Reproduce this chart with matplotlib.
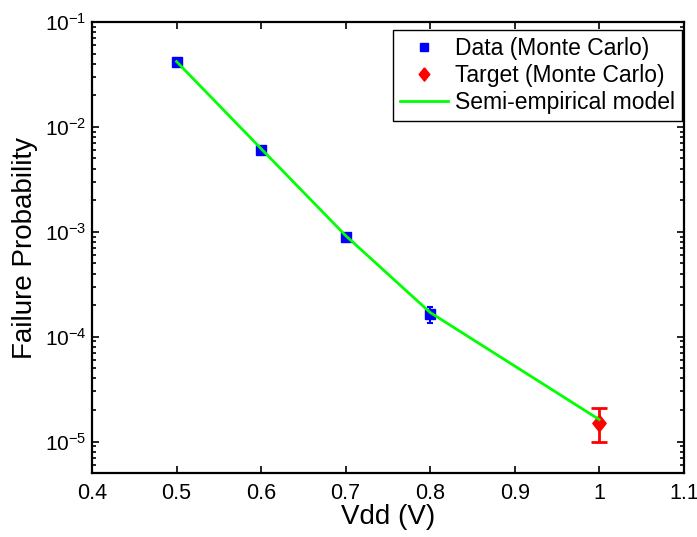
import matplotlib
matplotlib.use("Agg")
import matplotlib.pyplot as plt
import numpy as np
from matplotlib.ticker import LogLocator, NullFormatter

plt.rcParams['font.family'] = ['Liberation Sans', 'DejaVu Sans']
plt.rcParams['mathtext.fontset'] = 'custom'
plt.rcParams['mathtext.rm'] = 'Liberation Sans'
plt.rcParams['mathtext.it'] = 'Liberation Sans'
plt.rcParams['mathtext.default'] = 'regular'

# Data
vdd_data = [0.5, 0.6, 0.7, 0.8]
p_data = [0.042, 0.0060, 8.9e-4, 1.65e-4]
p_data_lo = [0.040, 0.0057, 8.5e-4, 1.35e-4]
p_data_hi = [0.044, 0.0063, 9.3e-4, 1.90e-4]

vdd_target = [1.0]
p_target = [1.5e-5]
p_target_lo = [1.0e-5]
p_target_hi = [2.1e-5]

vdd_model = [0.5, 0.6, 0.7, 0.8, 1.0]
p_model = [0.042, 0.0062, 9.2e-4, 1.7e-4, 1.62e-5]

xticks = [0.4, 0.5, 0.6, 0.7, 0.8, 0.9, 1.0, 1.1]
xticklabels = ['0.4', '0.5', '0.6', '0.7', '0.8', '0.9', '1', '1.1']

fig = plt.figure(figsize=(6.97, 5.37), dpi=100)
ax = fig.add_axes([0.132, 0.119, 0.849, 0.840])

err_d = [np.array(p_data) - np.array(p_data_lo), np.array(p_data_hi) - np.array(p_data)]
ax.errorbar(vdd_data, p_data, yerr=err_d, fmt='none', ecolor='blue', elinewidth=1.5, capsize=2.5, capthick=1.5, zorder=2)
h1, = ax.plot(vdd_data, p_data, 's', color='blue', markersize=7.5, markeredgecolor='blue', linestyle='none', zorder=3, label='Data (Monte Carlo)')

err_t = [np.array(p_target) - np.array(p_target_lo), np.array(p_target_hi) - np.array(p_target)]
ax.errorbar(vdd_target, p_target, yerr=err_t, fmt='none', ecolor='red', elinewidth=2, capsize=6, capthick=2, zorder=2)
diamond = [(0, 1), (0.8, 0), (0, -1), (-0.8, 0), (0, 1)]
h2, = ax.plot(vdd_target, p_target, marker=diamond, color='red', markersize=12, linestyle='none', zorder=3, label='Target (Monte Carlo)')

h3, = ax.plot(vdd_model, p_model, '-', color=(0, 1, 0), linewidth=2, zorder=4, label='Semi-empirical model')

ax.set_yscale('log')
ax.set_xlim(0.4, 1.1)
ax.set_ylim(5e-6, 1e-1)
ax.set_xticks(xticks)
ax.set_xticklabels(xticklabels)
ax.yaxis.set_major_locator(LogLocator(base=10, numticks=10))
ax.yaxis.set_minor_locator(LogLocator(base=10, subs=np.arange(2, 10), numticks=20))
ax.yaxis.set_minor_formatter(NullFormatter())

ax.tick_params(which='both', direction='in', top=True, right=True, width=1.2)
ax.tick_params(which='major', length=5)
ax.tick_params(which='minor', length=3)
ax.tick_params(axis='x', pad=7, labelsize=15.5)
ax.tick_params(axis='y', pad=4, labelsize=15)
for s in ax.spines.values():
    s.set_linewidth(1.6)

ax.set_xlabel('Vdd (V)', fontsize=20, labelpad=0)
ax.set_ylabel('Failure Probability', fontsize=20, labelpad=5)

leg = ax.legend(handles=[h1, h2, h3], loc='upper right', bbox_to_anchor=(0.9966, 0.982), fontsize=16.5,
                frameon=True, fancybox=False, edgecolor='black', framealpha=1, borderaxespad=0,
                handlelength=2.1, borderpad=0.3, labelspacing=0.18, handletextpad=0.3, markerscale=0.8)
leg.get_frame().set_linewidth(1.0)

fig.savefig('out.png', dpi=100)
